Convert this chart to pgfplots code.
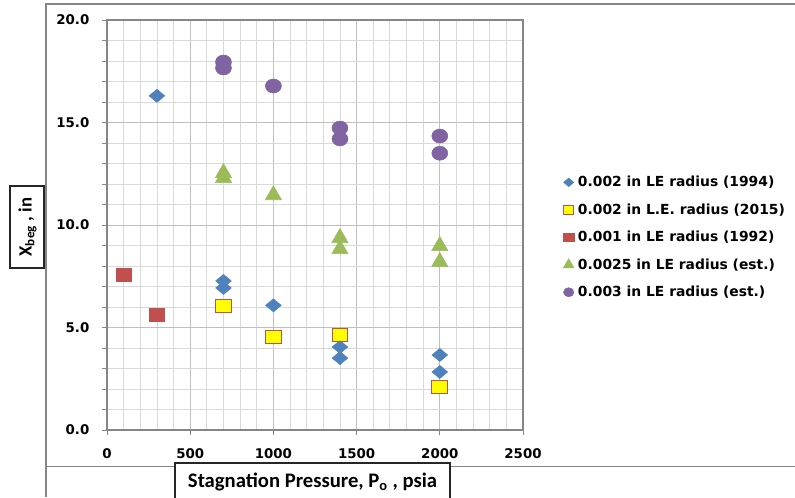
\documentclass[border=0pt]{standalone}
\usepackage{fontspec}
\setmainfont{DejaVu Sans}
\newfontfamily\calibri{Carlito}
\usepackage{pgfplots}
\pgfplotsset{compat=1.18}

\definecolor{sBlue}{HTML}{4F81BD}
\definecolor{sRed}{HTML}{C0504D}
\definecolor{sGreen}{HTML}{9BBB59}
\definecolor{sPurple}{HTML}{8064A2}
\definecolor{sYellow}{HTML}{FFFF00}
\definecolor{gridMinor}{HTML}{D9D9D9}
\definecolor{gridMajor}{HTML}{BFBFBF}
\definecolor{axisGray}{HTML}{868686}

\begin{document}
\begin{tikzpicture}[x=0.75pt,y=0.75pt]
\useasboundingbox (0,0) rectangle (795,497);
% chart area frame
\draw[axisGray, line width=0.8pt] (46,0) -- (46,493) -- (795,493);
\draw[axisGray, line width=0.8pt] (46,30.5) -- (175,30.5);
\draw[axisGray, line width=0.8pt] (450,30.5) -- (795,30.5);

\begin{axis}[
  at={(80.25pt,50.25pt)}, anchor=south west,
  scale only axis, width=312pt, height=307.5pt,
  xmin=0, xmax=2500, ymin=0, ymax=20,
  xtick={0,500,...,2500}, ytick={0,5,...,20},
  minor x tick num=4, minor y tick num=4,
  grid=both,
  minor grid style={gridMinor, line width=0.6pt},
  major grid style={gridMajor, line width=0.7pt},
  axis line style={axisGray, line width=0.8pt},
  tick style={axisGray, line width=0.7pt},
  minor x tick style={draw=none},
  tick align=outside, tick pos=left,
  major tick length=3.75pt, minor tick length=3.75pt,
  /pgf/number format/assume math mode=true,
  ticklabel style={font=\bfseries\fontsize{10}{12}\selectfont},
  xticklabel style={/pgf/number format/1000 sep={}, yshift=-6.5pt},
  yticklabel style={/pgf/number format/.cd, fixed, fixed zerofill, precision=1, /tikz/xshift=-6pt},
  legend style={draw=none, fill=none, at={(axis description cs:1.087,0.47)}, anchor=west,
    font=\bfseries\fontsize{10.4}{12}\selectfont, row sep=7.2pt,
    nodes={inner xsep=3pt}},
  legend cell align=left,
  legend image post style={scale=0.65},
]
\addplot[only marks, mark=diamond*, mark size=4.9pt,
  mark options={xscale=1.6, fill=sBlue, draw=sBlue}]
  coordinates {(300,16.3) (700,7.27) (700,6.93) (1000,6.08) (1400,4.05) (1400,3.51) (2000,3.66) (2000,2.83)};
\addlegendentry{0.002 in LE radius (1994)}
\addplot[only marks, mark=square*, mark size=4.9pt,
  mark options={xscale=1.2, fill=sYellow, draw=sRed, line width=0.8pt}]
  coordinates {(700,6.03) (1000,4.54) (1400,4.63) (2000,2.1)};
\addlegendentry{0.002 in L.E. radius (2015)}
\addplot[only marks, mark=square*, mark size=4.9pt,
  mark options={xscale=1.2, fill=sRed, draw=sRed}]
  coordinates {(100,7.56) (300,5.6)};
\addlegendentry{0.001 in LE radius (1992)}
\addplot[only marks, mark=triangle*, mark size=7pt,
  mark options={fill=sGreen, draw=sGreen}]
  coordinates {(700,12.54) (700,12.3) (1000,11.46) (1400,9.37) (1400,8.83) (2000,8.98) (2000,8.2)};
\addlegendentry{0.0025 in LE radius (est.)}
\addplot[only marks, mark=*, mark size=5.25pt,
  mark options={xscale=1.14, fill=sPurple, draw=sPurple}]
  coordinates {(700,17.95) (700,17.66) (1000,16.78) (1400,14.73) (1400,14.2) (2000,14.34) (2000,13.5)};
\addlegendentry{0.003 in LE radius (est.)}
\end{axis}

% axis title boxes
\draw[black!85, line width=0.8pt] (10,229) rectangle (44,311);
\node[rotate=90, font=\calibri\bfseries\fontsize{14}{16}\selectfont] at (27.5,270) {X\textsubscript{beg} , in};
\draw[black!85, line width=0.8pt] (175,-5) -- (175,34) -- (450,34) -- (450,-5);
\node[font=\calibri\bfseries\fontsize{15.5}{18}\selectfont, anchor=base] at (312.5,9.5) {Stagnation Pressure, P\textsubscript{o} , psia};
\end{tikzpicture}
\end{document}
